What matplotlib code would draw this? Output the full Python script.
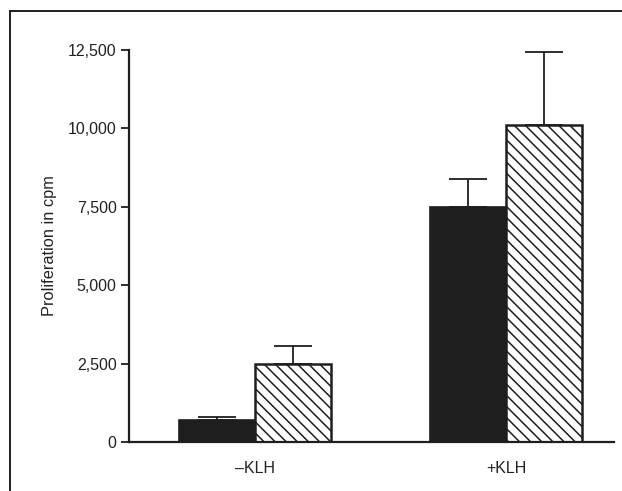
import numpy as np
import matplotlib
matplotlib.use("Agg")
import matplotlib.pyplot as plt
from matplotlib.lines import Line2D

plt.rcParams['font.family'] = ['Liberation Sans', 'DejaVu Sans']
plt.rcParams['hatch.linewidth'] = 1.1

# data
groups = ['\u2013KLH', '+KLH']
solid_vals = [700, 7490]
solid_err = [100, 900]
hatch_vals = [2490, 10110]
hatch_err = [570, 2330]
yticks = [0, 2500, 5000, 7500, 10000, 12500]

W, H = 622, 491
fig = plt.figure(figsize=(W / 100, H / 100), dpi=100)
ax = fig.add_axes([129 / W, 1 - 442 / H, (614 - 129) / W, (442 - 50) / H])

x = np.arange(len(groups))
w = 0.304
ax.bar(x - w / 2, solid_vals, w, color='#1e1e1e', edgecolor='#1e1e1e', linewidth=1.2)
ax.bar(x + w / 2, hatch_vals, w, color='white', edgecolor='#1e1e1e', hatch='\\\\\\', linewidth=1.8)
ax.errorbar(x - w / 2, solid_vals, yerr=[np.zeros(2), solid_err], fmt='none',
            ecolor='#1e1e1e', elinewidth=1.3, capsize=13.5, capthick=1.3)
ax.errorbar(x + w / 2, hatch_vals, yerr=[np.zeros(2), hatch_err], fmt='none',
            ecolor='#1e1e1e', elinewidth=1.3, capsize=13.5, capthick=1.3)

ax.set_xlim(-0.502, 1.43)
ax.set_ylim(0, 12500)
ax.set_yticks(yticks)
ax.set_yticklabels([f'{v:,}' for v in yticks], fontsize=11.5, color='#222222')
ax.set_xticks(x)
ax.set_xticklabels(groups, fontsize=11.5, color='#222222')
ax.tick_params(axis='x', length=0, pad=14)
ax.tick_params(axis='y', length=6, width=1.3, pad=3, color='#1e1e1e')
ax.set_ylabel('Proliferation in cpm', fontsize=11.8, color='#222222', labelpad=8)

for s in ['top', 'right']:
    ax.spines[s].set_visible(False)
for s in ['left', 'bottom']:
    ax.spines[s].set_linewidth(1.6)
    ax.spines[s].set_color('#1e1e1e')

# outer frame (top and left edges only)
fig.add_artist(Line2D([10 / W, 10 / W], [0, 1 - 11 / H], transform=fig.transFigure,
                      color='#1e1e1e', linewidth=1.4))
fig.add_artist(Line2D([10 / W, 1], [1 - 11 / H, 1 - 11 / H], transform=fig.transFigure,
                      color='#1e1e1e', linewidth=1.4))

fig.savefig('out.png', dpi=100)
